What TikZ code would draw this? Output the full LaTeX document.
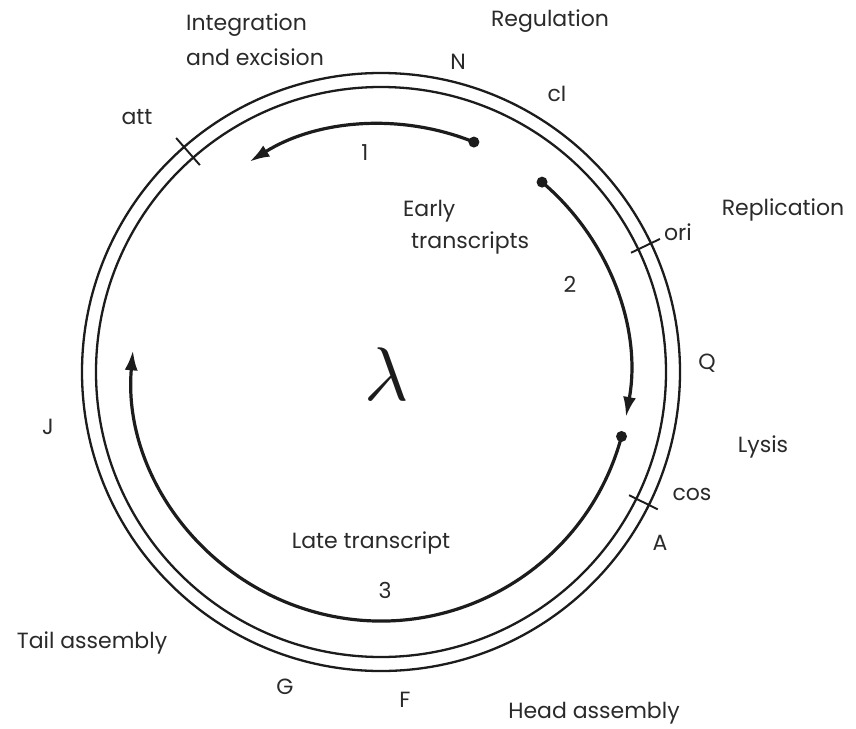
\documentclass[tikz,border=0pt]{standalone}
\usepackage{graphicx}
\usepackage{fontspec}
\setmainfont{Poppins}
\usetikzlibrary{arrows.meta}
\definecolor{ink}{HTML}{1c1c1c}
\definecolor{txt}{HTML}{2a2a2a}
\begin{document}
\begin{tikzpicture}[x=1pt,y=1pt,
  ring/.style={line width=2.3pt,draw=ink},
  tx/.style={line width=3.2pt,draw=ink,-{Latex[length=20pt,width=13pt]}},
  tick/.style={line width=1.9pt,draw=ink},
  dotmark/.style={circle,fill=ink,inner sep=0pt,minimum size=11pt},
  lbl/.style={text=txt,font=\fontsize{22}{26}\selectfont,inner sep=0pt}]
\useasboundingbox (0,0) rectangle (856,-728);
\fill[white] (0,0) rectangle (856,-728);
\coordinate (C) at (381,-372);
% rings
\draw[ring] (C) circle[radius=299];
\draw[ring] (C) circle[radius=285];
% ticks
\draw[tick] ([shift={(131.2:275)}]C) coordinate (att1) -- ([shift={(131.2:311)}]C) coordinate (att2);
\draw[tick] ([shift={(25.5:277)}]C) coordinate (ori1) -- ([shift={(25.5:309)}]C) coordinate (ori2);
\draw[tick] ([shift={(-26.4:277)}]C) coordinate (cos1) -- ([shift={(-26.4:309)}]C) coordinate (cos2);
% transcripts
\node[dotmark] (d1) at ([shift={(68:248)}]C) {};
\draw[tx] (d1.center) arc[start angle=68, end angle=122, radius=248] coordinate (e1);
\node[dotmark] (d2) at ([shift={(49.7:249)}]C) {};
\draw[tx] (d2.center) arc[start angle=49.7, end angle=-10.4, radius=249] coordinate (e2);
\node[dotmark] (d3) at ([shift={(-15:249)}]C) {};
\draw[tx] (d3.center) arc[start angle=-15, end angle=-185, radius=249] coordinate (e3);
% labels
\node[lbl,anchor=west] (integ) at (186,-25) {Integration};
\node[lbl,anchor=west] (excis) at (186,-57) {and excision};
\node[lbl] (reg) at (550,-21) {Regulation};
\node[lbl] (N) at (458,-62) {N};
\node[lbl] (cI) at (557,-94) {cI};
\node[lbl] (att) at (137,-117) {att};
\node[lbl] (one) at (365,-153) {1};
\node[lbl,anchor=west] (early) at (403,-211) {Early};
\node[lbl,anchor=west] (trans) at (411,-243) {transcripts};
\node[lbl] (repl) at (783,-210) {Replication};
\node[lbl] (ori) at (678,-232) {ori};
\node[lbl] (two) at (570,-284) {2};
\node[text=ink,inner sep=0pt] (lam) at (387,-374) {\scalebox{7.6}{$\lambda$}};
\node[lbl] (Q) at (707,-363) {Q};
\node[lbl] (J) at (48,-427) {J};
\node[lbl] (lys) at (763,-447) {Lysis};
\node[lbl] (cos) at (692,-494) {cos};
\node[lbl] (A) at (660,-543) {A};
\node[lbl] (late) at (371,-543) {Late transcript};
\node[lbl] (three) at (385,-590) {3};
\node[lbl] (tail) at (92,-643) {Tail assembly};
\node[lbl] (G) at (285,-687) {G};
\node[lbl] (F) at (405,-700) {F};
\node[lbl] (head) at (594,-713) {Head assembly};
\end{tikzpicture}
\end{document}
